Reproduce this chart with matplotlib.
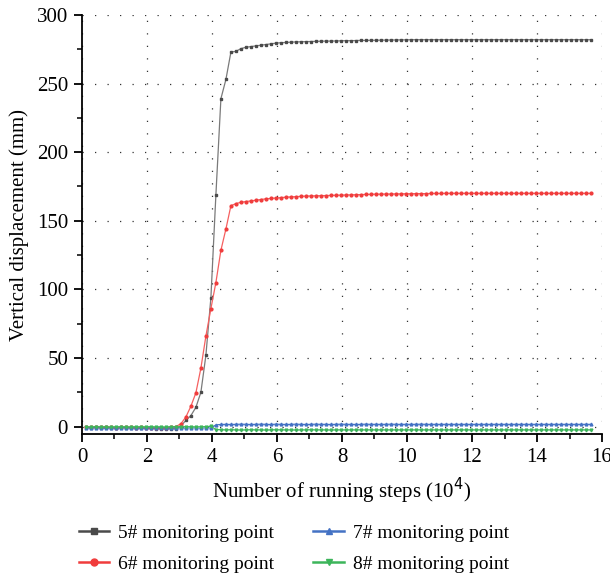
import matplotlib.pyplot as plt
import numpy as np
from matplotlib.ticker import MultipleLocator

plt.rcParams['font.family'] = ['Liberation Serif', 'DejaVu Serif']

# running steps (10^4), one sample every ~0.154
steps = np.linspace(0.12, 15.66, 102)

# 5# monitoring point
p5 = [-0.6, -0.8, -0.7, -0.9, -0.6, -0.8, -1.0, -0.7, -0.9, -0.8,
      -1.0, -0.9, -1.1, -1.2, -1.5, -1.6, -1.8, -1.6, -1.7, 0.5,
      4.4, 8.0, 14.0, 25.0, 52.0, 94.0, 169.0, 239.0, 253.0, 273.0,
      273.5, 275.5, 276.5, 277.0, 277.5, 278.0, 278.5, 279.0, 279.5, 279.8,
      280.0, 280.2, 280.4, 280.5, 280.6, 280.7, 280.8, 280.9, 281.0, 281.0,
      281.1, 281.2, 281.3, 281.3, 281.4, 281.5, 281.5, 281.6, 281.6, 281.7,
      281.7, 281.8, 281.8, 281.9, 281.9, 282.0, 282.0, 282.0, 282.0, 282.0,
      282.0, 282.0, 282.0, 282.0, 282.0, 282.0, 282.0, 282.0, 282.0, 282.0,
      282.0, 282.0, 282.0, 282.0, 282.0, 282.0, 282.0, 282.0, 282.0, 282.0,
      282.0, 282.0, 282.0, 282.0, 282.0, 282.0, 282.0, 282.0, 282.0, 282.0,
      282.0, 282.0]

# 6# monitoring point
p6 = [-0.5, -0.6, -0.4, -0.7, -0.5, -0.6, -0.8, -0.5, -0.7, -0.6,
      -0.8, -0.6, -0.9, -0.8, -1.0, -0.9, -0.8, -0.5, 0.0, 2.0,
      7.0, 14.8, 24.6, 42.6, 66.0, 86.0, 105.0, 128.5, 144.0, 161.0,
      162.5, 163.5, 164.0, 164.5, 165.0, 165.5, 166.0, 166.3, 166.6, 166.9,
      167.2, 167.4, 167.6, 167.8, 168.0, 168.1, 168.2, 168.3, 168.4, 168.5,
      168.6, 168.7, 168.8, 168.9, 169.0, 169.1, 169.2, 169.3, 169.4, 169.4,
      169.5, 169.5, 169.6, 169.6, 169.7, 169.7, 169.8, 169.8, 169.8, 169.9,
      169.9, 169.9, 170.0, 170.0, 170.0, 170.0, 170.0, 170.0, 170.0, 170.0,
      170.0, 170.0, 170.0, 170.0, 170.0, 170.0, 170.0, 170.0, 170.0, 170.0,
      170.0, 170.0, 170.0, 170.0, 170.0, 170.0, 170.0, 170.0, 170.0, 170.0,
      170.0, 170.0]

# 7# monitoring point
p7 = [-1.0, -1.2, -0.9, -1.1, -1.3, -1.0, -1.2, -1.1, -0.9, -1.2,
      -1.0, -1.3, -1.1, -1.0, -1.2, -0.9, -1.1, -1.2, -1.0, -1.1,
      -1.2, -1.0, -1.1, -1.2, -1.0, -1.1, 1.2, 1.5, 1.6, 1.5,
      1.6, 1.7, 1.6, 1.5, 1.6, 1.7, 1.6, 1.5, 1.7, 1.6,
      1.5, 1.6, 1.7, 1.6, 1.5, 1.6, 1.7, 1.6, 1.6, 1.5,
      1.6, 1.7, 1.6, 1.6, 1.5, 1.6, 1.7, 1.6, 1.6, 1.6,
      1.6, 1.7, 1.6, 1.6, 1.6, 1.6, 1.6, 1.7, 1.6, 1.6,
      1.6, 1.6, 1.6, 1.6, 1.6, 1.6, 1.6, 1.6, 1.6, 1.6,
      1.6, 1.6, 1.6, 1.6, 1.6, 1.6, 1.6, 1.6, 1.6, 1.6,
      1.6, 1.6, 1.6, 1.6, 1.6, 1.6, 1.6, 1.6, 1.6, 1.6,
      1.6, 1.6]

# 8# monitoring point
p8 = [-0.2, -0.4, -0.1, -0.3, -0.2, -0.5, -0.1, -0.3, -0.2, -0.4,
      -0.1, -0.3, -0.2, -0.1, -0.3, -0.2, -0.4, -0.1, -0.2, -0.3,
      -0.1, -0.2, -0.3, -0.2, -0.1, 0.2, -2.2, -2.4, -2.5, -2.4,
      -2.5, -2.6, -2.5, -2.4, -2.5, -2.5, -2.6, -2.5, -2.4, -2.5,
      -2.5, -2.5, -2.6, -2.5, -2.5, -2.4, -2.5, -2.5, -2.5, -2.6,
      -2.5, -2.5, -2.5, -2.5, -2.5, -2.5, -2.5, -2.5, -2.5, -2.5,
      -2.5, -2.5, -2.5, -2.5, -2.5, -2.5, -2.5, -2.5, -2.5, -2.5,
      -2.5, -2.5, -2.5, -2.5, -2.5, -2.5, -2.5, -2.5, -2.5, -2.5,
      -2.5, -2.5, -2.5, -2.5, -2.5, -2.5, -2.5, -2.5, -2.5, -2.5,
      -2.5, -2.5, -2.5, -2.5, -2.5, -2.5, -2.5, -2.5, -2.5, -2.5,
      -2.5, -2.5]

labels = ['5# monitoring point', '6# monitoring point',
          '7# monitoring point', '8# monitoring point']
colors = ['#4a4a4a', '#f03c3c', '#4472c4', '#3cb55a']
line_colors = ['#7a7a7a', '#f56060', '#4472c4', '#3cb55a']
markers = ['s', 'o', '^', 'v']

fig = plt.figure(figsize=(6.1, 5.78), dpi=100)
ax = fig.add_axes([0.1344, 0.249, 0.8525, 0.725])

# grid first so the curves sit on top
ax.grid(True, which='major', color='#333333', linewidth=0.9,
        linestyle=(0, (1, 9)))
ax.set_axisbelow(True)

for vals, c, lc, m in zip([p5, p6, p7, p8], colors, line_colors, markers):
    ax.plot(steps, vals, color=lc, marker=m, markersize=2.0,
            markerfacecolor=c, markeredgecolor=c, linewidth=0.9)

ax.set_xlim(0, 16)
ax.set_ylim(-5.5, 300)
ax.xaxis.set_major_locator(MultipleLocator(2))
ax.xaxis.set_minor_locator(MultipleLocator(1))
ax.yaxis.set_major_locator(MultipleLocator(50))
ax.yaxis.set_minor_locator(MultipleLocator(25))

for s in ['top', 'right']:
    ax.spines[s].set_visible(False)
for s in ['left', 'bottom']:
    ax.spines[s].set_linewidth(1.3)

ax.tick_params(which='major', direction='out', length=6, width=1.3,
               labelsize=15, pad=4)
ax.tick_params(which='minor', direction='out', length=3.5, width=1.1)

ax.set_xlabel('Number of running steps (10$^4$)', fontsize=15, labelpad=6)
ax.set_ylabel('Vertical displacement (mm)', fontsize=15, labelpad=6)

# legend handles: darker line + marker, like the reference
handles = [plt.Line2D([], [], color=c, marker=m, markersize=5, linewidth=1.8)
           for c, m in zip(colors, markers)]
fig.legend(handles, labels, loc='lower center', bbox_to_anchor=(0.482, -0.022),
           ncol=2, frameon=False, fontsize=14, handlelength=1.55,
           handletextpad=0.5, columnspacing=2.0, labelspacing=0.7)

plt.savefig('out.png', dpi=100)
